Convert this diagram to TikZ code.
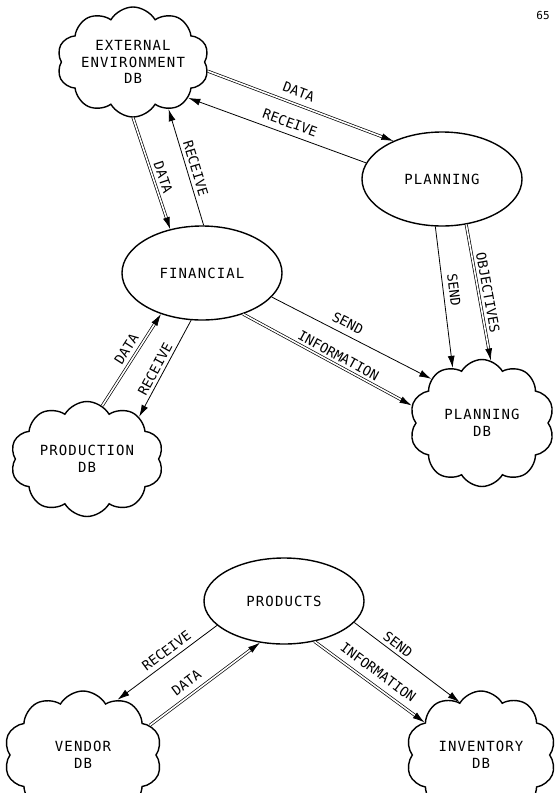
\documentclass[tikz,border=0pt]{standalone}
\usepackage{fontspec}
\newfontfamily\boxfont[LetterSpace=8]{DejaVu Sans Mono}
\newfontfamily\flowfont{DejaVu Sans Mono}
\usetikzlibrary{shapes.geometric,shapes.symbols,arrows.meta}

\tikzset{
  proc/.style={ellipse, draw, line width=1.4pt, inner sep=0pt,
    minimum width=160pt, minimum height=94pt,
    font=\boxfont\fontsize{14}{17}\selectfont},
  store/.style={cloud, cloud puffs=10, cloud puff arc=120, cloud ignores aspect,
    draw, line width=1.4pt, inner sep=0pt, align=center,
    font=\boxfont\fontsize{14}{16.5}\selectfont},
  flow/.style={line width=0.8pt, -{Latex[length=12pt,width=7pt]}},
  dflow/.style={double, double distance=1.6pt, line width=0.7pt,
    -{Latex[length=12pt,width=7pt]}},
  lbl/.style={sloped, inner sep=0pt, font=\flowfont\fontsize{13.5}{15}\selectfont},
  pagenum/.style={inner sep=0pt, font=\flowfont\fontsize{11}{13}\selectfont}
}

\begin{document}
\begin{tikzpicture}[x=1pt,y=-1pt]
  \useasboundingbox[fill=white] (0,0) rectangle (558,793);

  % page number
  \node[pagenum] (pg) at (543,15) {65};

  % processes and data stores, upper diagram
  \node[store, minimum width=152pt, minimum height=110pt] (ext) at (133,62) {EXTERNAL\\ENVIRONMENT\\DB};
  \node[proc] (plan) at (442,179) {PLANNING};
  \node[proc] (fin) at (202,273) {FINANCIAL};
  \node[store, minimum width=145pt, minimum height=127pt] (pdb) at (482,423) {PLANNING\\DB};
  \node[store, minimum width=153pt, minimum height=115pt] (prod) at (87,459) {PRODUCTION\\DB};

  % lower diagram
  \node[proc, minimum height=86pt] (prods) at (284,601) {PRODUCTS};
  \node[store, minimum width=158pt, minimum height=128pt] (ven) at (83,755) {VENDOR\\DB};
  \node[store, minimum width=150pt, minimum height=128pt] (inv) at (481,755) {INVENTORY\\DB};

  % flows, upper diagram
  \draw[dflow] (ext.-7.7) -- node[lbl, pos=0.466, above=7.5pt] {DATA} (plan.142.9);
  \draw[flow] (plan.168.3) -- node[lbl, pos=0.45, above=6pt] {RECEIVE} (ext.-33.4);
  \draw[dflow] (ext.-90) -- node[lbl, pos=0.566, above=4.5pt] {DATA} (fin.126);
  \draw[flow] (fin.88.8) -- node[lbl, pos=0.47, above=3.5pt] {RECEIVE} (ext.-53.3);
  \draw[flow] (plan.-98.5) -- node[lbl, pos=0.46, above=5.2pt] {SEND} (pdb.118.3);
  \draw[dflow] (plan.-62) -- node[lbl, pos=0.516, above=3.8pt] {OBJECTIVES} (pdb.82.2);
  \draw[flow] (fin.-19.1) -- node[lbl, pos=0.445, above=6pt] {SEND} (pdb.139.4);
  \draw[dflow] (fin.-45) -- node[lbl, pos=0.541, above=3.4pt] {INFORMATION} (pdb.166.6);
  \draw[dflow] (prod.74.2) -- node[lbl, pos=0.559, above=5pt] {DATA} (fin.-135);
  \draw[flow] (fin.-103.8) -- node[lbl, pos=0.549, above=3pt] {RECEIVE} (prod.39.1);

  % flows, lower diagram
  \draw[flow] (prods.-160.3) -- node[lbl, pos=0.448, above=4.5pt] {RECEIVE} (ven.58.4);
  \draw[dflow] (ven.24.6) -- node[lbl, pos=0.40, above=7pt] {DATA} (prods.-120.6);
  \draw[flow] (prods.-17.2) -- node[lbl, pos=0.363, above=3.5pt] {SEND} (inv.112.5);
  \draw[dflow] (prods.-53.6) -- node[lbl, pos=0.509, above=7.5pt] {INFORMATION} (inv.150.8);
\end{tikzpicture}
\end{document}
